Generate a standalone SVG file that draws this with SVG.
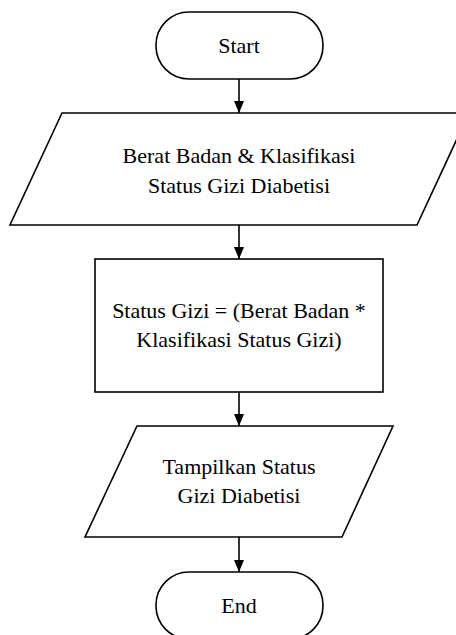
<svg xmlns="http://www.w3.org/2000/svg" width="456" height="635" viewBox="0 0 456 635">
  <style>
    .shape { fill: #ffffff; stroke: #000000; stroke-width: 1.6; }
    .flow { fill: none; stroke: #000000; stroke-width: 1.6; }
  </style>
  <defs>
    <marker id="arrow" viewBox="0 0 12 10" refX="12" refY="5" markerWidth="12" markerHeight="10" markerUnits="userSpaceOnUse" orient="auto">
      <path d="M0,0 L12,5 L0,10 Z" fill="#000000"/>
    </marker>
  </defs>

  <rect x="0" y="0" width="456" height="635" fill="#ffffff"/>

  <!-- connectors -->
  <g id="connectors">
    <line class="flow" x1="239" y1="79" x2="239" y2="113" marker-end="url(#arrow)"/>
    <line class="flow" x1="239" y1="225" x2="239" y2="259" marker-end="url(#arrow)"/>
    <line class="flow" x1="239" y1="392" x2="239" y2="426" marker-end="url(#arrow)"/>
    <line class="flow" x1="239" y1="537" x2="239" y2="572" marker-end="url(#arrow)"/>
  </g>

  <!-- start terminator -->
  <g id="start">
    <rect class="shape" x="156" y="12" width="167" height="67" rx="33" ry="33"/>
    <text x="239" y="53" font-family="'Liberation Serif', 'Times New Roman', serif" font-size="22" text-anchor="middle">Start</text>
  </g>

  <!-- input: body weight and classification -->
  <g id="input">
    <polygon class="shape" points="62,113 469,113 417,225 10,225"/>
    <text x="239" y="163" font-family="'Liberation Serif', 'Times New Roman', serif" font-size="22" text-anchor="middle">Berat Badan &amp; Klasifikasi</text>
    <text x="239" y="193" font-family="'Liberation Serif', 'Times New Roman', serif" font-size="22" text-anchor="middle">Status Gizi Diabetisi</text>
  </g>

  <!-- process: compute nutrition status -->
  <g id="process">
    <rect class="shape" x="95" y="259" width="288" height="133"/>
    <text x="239" y="318" font-family="'Liberation Serif', 'Times New Roman', serif" font-size="22" text-anchor="middle">Status Gizi = (Berat Badan *</text>
    <text x="239" y="347" font-family="'Liberation Serif', 'Times New Roman', serif" font-size="22" text-anchor="middle">Klasifikasi Status Gizi)</text>
  </g>

  <!-- output: display result -->
  <g id="output">
    <polygon class="shape" points="137,426 393,426 342,537 85,537"/>
    <text x="239" y="474" font-family="'Liberation Serif', 'Times New Roman', serif" font-size="22" text-anchor="middle">Tampilkan Status</text>
    <text x="239" y="503" font-family="'Liberation Serif', 'Times New Roman', serif" font-size="22" text-anchor="middle">Gizi Diabetisi</text>
  </g>

  <!-- end terminator -->
  <g id="end">
    <rect class="shape" x="156" y="572" width="167" height="67" rx="33" ry="33"/>
    <text x="239" y="613" font-family="'Liberation Serif', 'Times New Roman', serif" font-size="22" text-anchor="middle">End</text>
  </g>
</svg>
